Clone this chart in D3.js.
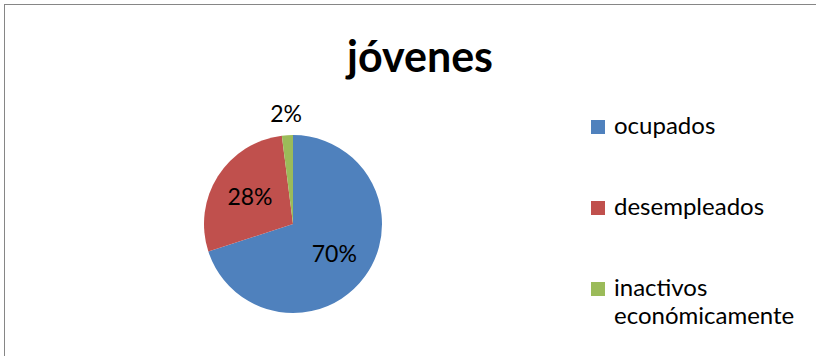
<!DOCTYPE html>
<html>
<head>
<meta charset="utf-8">
<script src="https://cdn.jsdelivr.net/npm/d3@7"></script>
<style>
  html, body { margin: 0; padding: 0; background: #fff; }
  svg { display: block; }
  text { font-family: Lato, "Noto Sans", sans-serif; fill: #000; }
</style>
</head>
<body>
<svg id="chart" width="816" height="356"></svg>
<script>
const title = "jóvenes";
const categories = ["ocupados", "desempleados", "inactivos económicamente"];
const values = [70, 28, 2];
const percentLabels = ["70%", "28%", "2%"];
const colors = ["#4F81BD", "#C0504D", "#9BBB59"];

const svg = d3.select("#chart");
const W = 816, H = 356;

// outer border
svg.append("rect")
  .attr("x", 4.5).attr("y", 4.5)
  .attr("width", W + 10).attr("height", H + 10)
  .attr("fill", "#fff").attr("stroke", "#868686").attr("stroke-width", 1);

// title
svg.append("text")
  .attr("x", 420).attr("y", 72)
  .attr("text-anchor", "middle")
  .attr("font-size", 43).attr("font-weight", "bold")
  .text(title);

// pie
const cx = 293, cy = 224, R = 89;
const pie = d3.pie().sort(null).value(d => d)
  .startAngle(0).endAngle(2 * Math.PI);
const arcs = pie(values);
const arc = d3.arc().innerRadius(0).outerRadius(R);
const g = svg.append("g").attr("transform", `translate(${cx},${cy})`);

g.selectAll("path.slice").data(arcs).enter().append("path")
  .attr("class", "slice")
  .attr("d", arc)
  .attr("fill", (d, i) => colors[i]);

const insideArc = d3.arc().innerRadius(51).outerRadius(51);
const outsideArc = d3.arc().innerRadius(111).outerRadius(111);
g.selectAll("text.lbl").data(arcs).enter().append("text")
  .attr("class", "lbl")
  .attr("transform", d => {
    const frac = (d.endAngle - d.startAngle) / (2 * Math.PI);
    const c = frac < 0.05 ? outsideArc.centroid(d) : insideArc.centroid(d);
    return `translate(${c[0]},${c[1]})`;
  })
  .attr("text-anchor", "middle")
  .attr("dy", "0.36em")
  .attr("font-size", 23)
  .text((d, i) => percentLabels[i]);

// legend
const legendX = 591, legendY0 = 134, legendStep = 81, lineH = 28;
const lg = svg.append("g");
categories.forEach((c, i) => {
  const y = legendY0 + i * legendStep;
  lg.append("rect")
    .attr("x", legendX).attr("y", y - 14)
    .attr("width", 14).attr("height", 14)
    .attr("fill", colors[i]);
  const words = c.split(" ");
  const t = lg.append("text")
    .attr("x", legendX + 23).attr("y", y)
    .attr("font-size", 24);
  words.forEach((w, j) => {
    t.append("tspan").attr("x", legendX + 23).attr("y", y + j * lineH).text(w);
  });
});
</script>
</body>
</html>
